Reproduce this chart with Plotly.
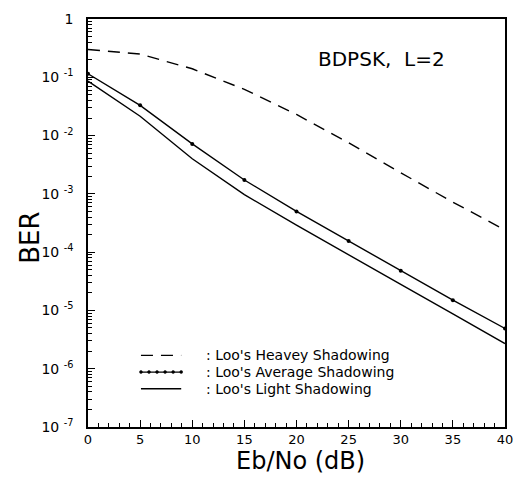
import plotly.graph_objects as go

# Eb/No grid in dB
snr_db = [0, 5, 10, 15, 20, 25, 30, 35, 40]

# Bit error rate of BDPSK with L=2 diversity under Loo's shadowing models
ber_heavy = [0.30, 0.25, 0.14, 0.062, 0.023, 0.0075, 0.0023, 7.2e-4, 2.4e-4]
ber_average = [0.115, 0.033, 0.0072, 0.00173, 5.0e-4, 1.55e-4, 4.8e-5, 1.5e-5, 4.9e-6]
ber_light = [0.086, 0.0215, 0.0040, 0.00097, 2.9e-4, 8.9e-5, 2.8e-5, 8.7e-6, 2.7e-6]

series_names = [": Loo's Heavey Shadowing",
                ": Loo's Average Shadowing",
                ": Loo's Light Shadowing"]

x_ticks = [0, 5, 10, 15, 20, 25, 30, 35, 40]
y_ticks = [1, 1e-1, 1e-2, 1e-3, 1e-4, 1e-5, 1e-6, 1e-7]
y_ticktext = ["1"] + ["10 <sup>-%d</sup>" % k for k in range(1, 8)]

FONT = "DejaVu Sans"
INK = "black"
LW = 1.4
DASH = "12px,8px"

styles = [
    dict(mode="lines", line=dict(color=INK, width=LW, dash=DASH)),
    dict(mode="lines+markers", line=dict(color=INK, width=LW),
         marker=dict(color=INK, size=4, symbol="circle")),
    dict(mode="lines", line=dict(color=INK, width=LW)),
]

fig = go.Figure()
for name, ys, st in zip(series_names, [ber_heavy, ber_average, ber_light], styles):
    fig.add_trace(go.Scatter(x=snr_db, y=ys, name=name, showlegend=False, **st))

# Key box in the lower-left corner of the plot area (paper coordinates)
key_x0, key_x1, key_text_x = 0.127, 0.2235, 0.28
key_rows = [0.1755, 0.1346, 0.0937]
for i, (name, yk) in enumerate(zip(series_names, key_rows)):
    line_style = dict(color=INK, width=LW)
    if i == 0:
        line_style["dash"] = DASH
    fig.add_shape(type="line", xref="paper", yref="paper",
                  x0=key_x0, x1=key_x1, y0=yk, y1=yk, line=line_style)
    if i == 1:
        n_dots = 6
        for j in range(n_dots):
            xd = key_x0 + (key_x1 - key_x0) * j / (n_dots - 1)
            fig.add_shape(type="circle", xref="paper", yref="paper",
                          x0=xd - 0.0035, x1=xd + 0.0035, y0=yk - 0.0036, y1=yk + 0.0036,
                          fillcolor=INK, line=dict(color=INK, width=0.5))
    fig.add_annotation(x=key_text_x, y=yk, xref="paper", yref="paper", text=name,
                       xanchor="left", yanchor="middle", showarrow=False, borderpad=0,
                       font=dict(family=FONT, size=14, color=INK))

fig.add_annotation(x=0.705, y=0.901, xref="paper", yref="paper", text="BDPSK,  L=2",
                   xanchor="center", yanchor="middle", showarrow=False,
                   font=dict(family=FONT, size=20, color=INK))

# Axis titles
fig.add_annotation(x=-0.139, y=0.464, xref="paper", yref="paper", text="BER",
                   textangle=-90, xanchor="center", yanchor="middle", showarrow=False,
                   font=dict(family=FONT, size=26, color=INK))
fig.add_annotation(x=0.5106, y=-0.0841, xref="paper", yref="paper", text="Eb/No (dB)",
                   xanchor="center", yanchor="middle", showarrow=False, borderpad=0,
                   font=dict(family=FONT, size=24, color=INK))

fig.update_layout(
    width=524, height=478,
    margin=dict(l=88, r=11, t=11, b=51),
    paper_bgcolor="white", plot_bgcolor="white",
    font=dict(family=FONT, color=INK),
    showlegend=False,
    xaxis=dict(range=[0, 40], tickvals=x_ticks, ticks="inside", ticklen=7,
               tickcolor=INK, tickwidth=1, showgrid=False, zeroline=False,
               showline=True, linecolor=INK, linewidth=1.5, mirror=True,
               tickfont=dict(family=FONT, size=13, color=INK),
               minor=dict(dtick=1, ticks="inside", ticklen=4, tickcolor=INK, showgrid=False)),
    yaxis=dict(type="log", range=[-7, 0], tickvals=y_ticks, ticktext=y_ticktext,
               ticks="inside", ticklen=7, tickcolor=INK, tickwidth=1,
               ticklabelstandoff=10,
               showgrid=False, zeroline=False,
               showline=True, linecolor=INK, linewidth=1.5, mirror=True,
               tickfont=dict(family=FONT, size=14, color=INK),
               minor=dict(dtick="D1", ticks="inside", ticklen=4, tickcolor=INK, showgrid=False)),
)

fig.write_html("out.html")
